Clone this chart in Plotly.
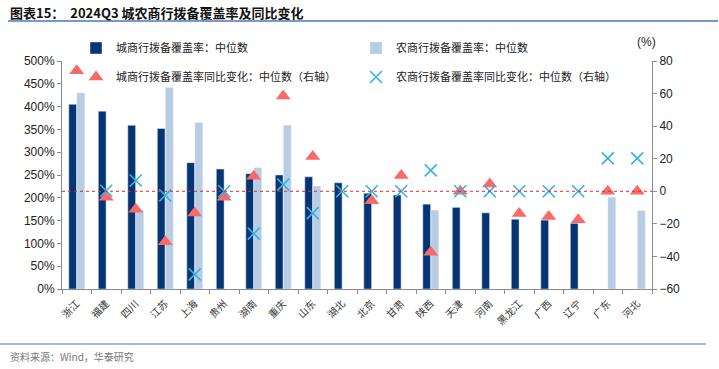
import plotly.graph_objects as go

categories = ["浙江", "福建", "四川", "江苏", "上海", "贵州", "湖南", "重庆", "山东", "湖北",
              "北京", "甘肃", "陕西", "天津", "河南", "黑龙江", "广西", "辽宁", "广东", "河北"]
city_cov = [405, 390, 359, 352, 277, 263, 253, 250, 246, 233,
            210, 206, 186, 179, 167, 153, 151, 144, None, None]
rural_cov = [430, None, 173, 442, 365, None, 266, 359, 226, None,
             None, None, 173, None, None, None, None, None, 201, 172]
city_yoy = [74, -3.7, -11, -31, -13.4, -3.7, 9.3, 58.5, 21.3, None,
            -5.8, 9.7, -37.5, 0, 4.5, -13.7, -15.5, -17.5, 0, 0]
rural_yoy = [None, 0.3, 6.6, -2.5, -51, 0, -26, 4.1, -13.4, 0,
             0, 0, 12.8, 0, 0, 0, 0, 0, 20.2, 20.2]

DARK = "#053572"
LIGHT = "#b8cce4"
RED = "#f86a6a"
CYAN = "#34b3e4"
CJK = "Noto Sans CJK SC"

W, H = 719, 369
# plot area in screen pixels (body margin removed below)
PL, PR, PT, PB = 62, 652, 61, 289
PW, PH = PR - PL, PB - PT


def px(sx):
    return (sx - PL) / PW


def py(sy):
    return (PB - sy) / PH


fig = go.Figure()
fig.add_trace(go.Bar(x=categories, y=city_cov, name="城商行拨备覆盖率：中位数",
                     marker_color=DARK, legend="legend"))
fig.add_trace(go.Bar(x=categories, y=rural_cov, name="农商行拨备覆盖率：中位数",
                     marker_color=LIGHT, legend="legend"))
fig.add_trace(go.Scatter(x=categories, y=city_yoy, yaxis="y2", mode="markers",
                         name="城商行拨备覆盖率同比变化：中位数（右轴）",
                         marker=dict(symbol="triangle-up", size=13, color=RED),
                         legend="legend2"))
fig.add_trace(go.Scatter(x=categories, y=rural_yoy, yaxis="y2", mode="markers",
                         name="农商行拨备覆盖率同比变化：中位数（右轴）",
                         marker=dict(symbol="x-thin", size=12, color=CYAN,
                                     line=dict(color=CYAN, width=1.6)),
                         legend="legend2"))

axis_col = "#8c8c8c"
leg_common = dict(orientation="h", xanchor="left", yanchor="middle",
                  entrywidth=235, font=dict(family=CJK, size=11, color="#222"),
                  itemwidth=30, bgcolor="rgba(0,0,0,0)")
fig.update_layout(
    width=W, height=H,
    margin=dict(l=PL, r=W - PR, t=PT, b=H - PB, autoexpand=False),
    paper_bgcolor="white", plot_bgcolor="white",
    barmode="group", bargap=0.45, bargroupgap=0.04,
    font=dict(family="Liberation Sans, Arial", size=12, color="#222"),
    xaxis=dict(type="category", showline=True, linecolor=axis_col, linewidth=1,
               ticks="outside", tickson="boundaries", ticklen=4, tickcolor=axis_col,
               tickangle=-45, tickfont=dict(family=CJK, size=10, color="#333"),
               ticklabelstandoff=4,
               showgrid=False, range=[-0.5, 19.5], automargin=False),
    yaxis=dict(range=[0, 500], dtick=50, ticksuffix="%", showgrid=False,
               showline=True, linecolor=axis_col, ticks="outside", ticklen=4,
               tickcolor=axis_col, zeroline=False, automargin=False,
               tickfont=dict(size=12, color="#222")),
    yaxis2=dict(range=[-60, 80], dtick=20, overlaying="y", side="right",
                showgrid=False, showline=True, linecolor=axis_col, ticks="outside",
                ticklen=4, tickcolor=axis_col, zeroline=False, automargin=False,
                tickfont=dict(size=12, color="#222")),
    legend=dict(x=px(76), y=py(48), **leg_common),
    legend2=dict(x=px(76), y=py(77), **leg_common),
    shapes=[
        dict(type="line", xref="paper", yref="y2", x0=0, x1=1, y0=0, y1=0,
             line=dict(color="#e8262b", width=1, dash="dot")),
        dict(type="line", xref="paper", yref="paper", x0=px(8), x1=px(718),
             y0=py(21), y1=py(21), line=dict(color="#4a7ab5", width=1.5)),
        dict(type="line", xref="paper", yref="paper", x0=px(0), x1=px(706),
             y0=py(344), y1=py(344), line=dict(color="#4a7ab5", width=1.2)),
    ],
    annotations=[
        dict(text="<b>图表15：  2024Q3 城农商行拨备覆盖率及同比变化</b>", xref="paper", yref="paper",
             x=px(8), y=py(12), xanchor="left", yanchor="middle", showarrow=False,
             font=dict(family=CJK, size=13, color="#111")),
        dict(text="资料来源：Wind，华泰研究", xref="paper", yref="paper",
             x=px(8), y=py(356), xanchor="left", yanchor="middle", showarrow=False,
             font=dict(family=CJK, size=10, color="#777")),
        dict(text="(%)", xref="paper", yref="paper", x=px(646), y=py(42),
             xanchor="center", yanchor="middle", showarrow=False,
             font=dict(size=12, color="#222")),
    ],
)

fig.write_html("out.html", config={"displayModeBar": False},
               post_script="document.body.style.margin='0';document.body.style.overflow='hidden';")
